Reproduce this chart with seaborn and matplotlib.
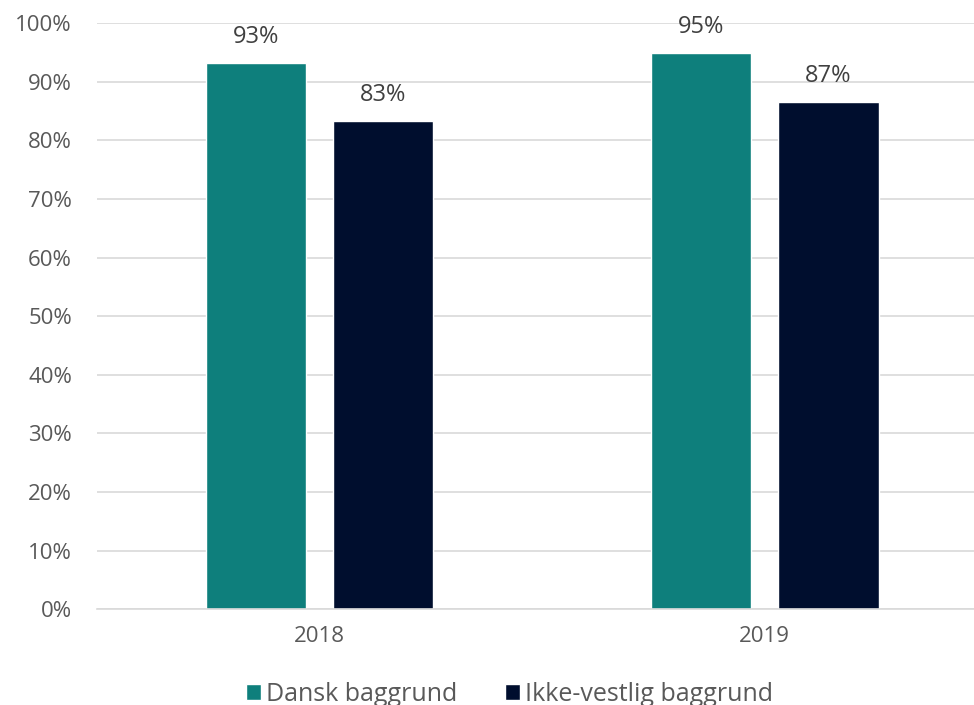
import matplotlib
matplotlib.use("Agg")
import matplotlib.pyplot as plt
import seaborn as sns
import pandas as pd
from matplotlib.patches import Patch

years = ["2018", "2019"]
series = ["Dansk baggrund", "Ikke-vestlig baggrund"]
dansk = [0.933, 0.949]
ikke_vestlig = [0.833, 0.866]
colors = ["#0E7F7C", "#000E2E"]

df = pd.DataFrame({
    "year": years * 2,
    "group": [series[0]] * 2 + [series[1]] * 2,
    "value": dansk + ikke_vestlig,
})

sns.set_theme(style="white")
plt.rcParams["font.family"] = ["Open Sans", "DejaVu Sans"]

fig = plt.figure(figsize=(9.74, 7.05), dpi=100)
ax = fig.add_axes([0.0996, 0.136, 0.9004, 0.831])

sns.barplot(data=df, x="year", y="value", hue="group", palette=colors,
            width=0.572, gap=0.213, ax=ax, legend=False, saturation=1)

ax.set_ylim(0, 1)
ax.set_xlim(-0.5, 1.47)
ax.set_yticks([i / 10 for i in range(11)])
ax.set_yticklabels([f"{i*10}%" for i in range(11)])
ax.yaxis.grid(True, color="#D9D9D9", linewidth=1.2)
ax.set_axisbelow(True)
for s in ["top", "right", "left"]:
    ax.spines[s].set_visible(False)
ax.spines["bottom"].set_color("#D9D9D9")
ax.spines["bottom"].set_linewidth(1.2)
ax.tick_params(axis="both", length=0, labelsize=16, labelcolor="#595959")
ax.tick_params(axis="y", pad=18)
ax.tick_params(axis="x", pad=12)
ax.set_xlabel("")
ax.set_ylabel("")

for cont in ax.containers:
    labels = [f"{round(b.get_height()*100):.0f}%" for b in cont]
    ax.bar_label(cont, labels=labels, padding=10, fontsize=17, color="#404040")

handles = [Patch(facecolor=c, label=l) for c, l in zip(colors, series)]
fig.legend(handles=handles, loc="center", bbox_to_anchor=(0.523, 0.015), ncol=2,
           frameon=False, fontsize=18, labelcolor="#595959",
           handlelength=0.6, handleheight=0.6, handletextpad=0.2, columnspacing=1.9)

fig.savefig("out.png", dpi=100)
